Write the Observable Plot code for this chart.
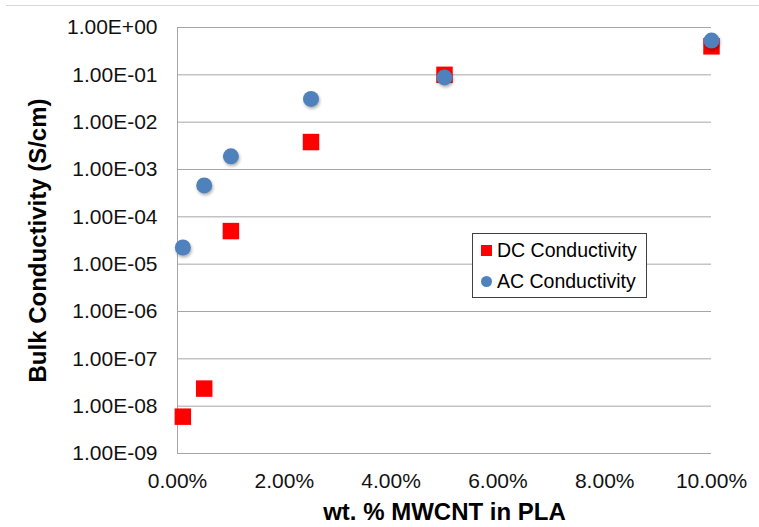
<!DOCTYPE html>
<html>
<head>
<meta charset="utf-8">
<script src="https://cdn.jsdelivr.net/npm/d3@7"></script>
<script src="https://cdn.jsdelivr.net/npm/@observablehq/plot@0.6"></script>
<style>
  body { margin: 0; background: #fff; font-family: "Liberation Sans", Arial, sans-serif; }
  #wrap { position: relative; width: 759px; height: 527px; overflow: hidden; }
  #topline { position: absolute; left: 6px; right: 0; top: 5px; height: 0; border-top: 1px solid #d9d9d9; }
  #legend { position: absolute; left: 472px; top: 233px; width: 175px; height: 65px; border: 1px solid #404040; background: #fff; box-sizing: border-box; font-size: 19.5px; color: #000; }
  .row { position: absolute; left: 24px; white-space: nowrap; line-height: 1; }
  .sq { position: absolute; left: 8px; width: 11px; height: 11px; background: #ff0000; }
  .ci { position: absolute; left: 8px; width: 11px; height: 11px; border-radius: 50%; background: #4f81bd; }
</style>
</head>
<body>
<div id="wrap">
  <div id="chart"></div>
  <div id="topline"></div>
  <div id="legend"></div>
</div>
<script>
// ---- data ----
const wtFraction = [0.001, 0.005, 0.01, 0.025, 0.05, 0.10];
const dcConductivity = [6.0e-9, 2.35e-8, 5.0e-5, 3.8e-3, 1.0e-1, 4.0e-1];
const acConductivity = [2.25e-5, 4.6e-4, 1.9e-3, 3.1e-2, 8.8e-2, 5.3e-1];
const seriesNames = ["DC Conductivity", "AC Conductivity"];
const yTicks = [1e-9, 1e-8, 1e-7, 1e-6, 1e-5, 1e-4, 1e-3, 1e-2, 1e-1, 1e0];
const xTicks = [0, 0.02, 0.04, 0.06, 0.08, 0.10];
const xTitle = "wt. % MWCNT in PLA";
const yTitle = "Bulk Conductivity (S/cm)";

const dc = wtFraction.map((x, i) => ({x, y: dcConductivity[i]}));
const ac = wtFraction.map((x, i) => ({x, y: acConductivity[i]}));

const fmtE = d => {
  const e = Math.round(Math.log10(d));
  return "1.00E" + (e < 0 ? "-" : "+") + String(Math.abs(e)).padStart(2, "0");
};
const fmtPct = d => (d * 100).toFixed(2) + "%";

const chart = Plot.plot({
  width: 759,
  height: 527,
  marginLeft: 177,
  marginRight: 48,
  marginTop: 27,
  marginBottom: 74,
  style: { fontFamily: '"Liberation Sans", Arial, sans-serif', fontSize: "21px", color: "#111", background: "transparent" },
  x: { domain: [0, 0.10] },
  y: { type: "log", domain: [1e-9, 1] },
  marks: [
    Plot.ruleY(yTicks, { stroke: "#a6a6a6", strokeWidth: 1 }),
    Plot.ruleX([0], { stroke: "#a6a6a6", strokeWidth: 1 }),
    Plot.axisY({ ticks: yTicks, tickFormat: fmtE, tickSize: 0, tickPadding: 20, fontSize: 21, label: null }),
    Plot.axisX({ ticks: xTicks, tickFormat: fmtPct, tickSize: 0, tickPadding: 20, fontSize: 21, label: null }),
    Plot.dot(dc, { x: "x", y: "y", symbol: "square", r: 9.3, fill: "#ff0000", stroke: "none" }),
    Plot.dot(ac, { x: "x", y: "y", r: 8, fill: "#4f81bd", stroke: "none", imageFilter: "drop-shadow(1px 2px 1.5px rgba(0,0,0,0.3))" }),
    Plot.text([xTitle], { frameAnchor: "bottom", lineAnchor: "middle", textAnchor: "middle", dy: 59, fontSize: 24, fontWeight: "bold", fill: "#000" }),
    Plot.text([yTitle], { frameAnchor: "left", lineAnchor: "middle", textAnchor: "middle", rotate: -90, dx: -139, fontSize: 24, fontWeight: "bold", fill: "#000" })
  ]
});
document.getElementById("chart").appendChild(chart);

// legend
const legend = document.getElementById("legend");
legend.innerHTML =
  `<div class="sq" style="top:11px"></div><div class="row" style="top:7px">${seriesNames[0]}</div>` +
  `<div class="ci" style="top:42px"></div><div class="row" style="top:38px">${seriesNames[1]}</div>`;
</script>
</body>
</html>
